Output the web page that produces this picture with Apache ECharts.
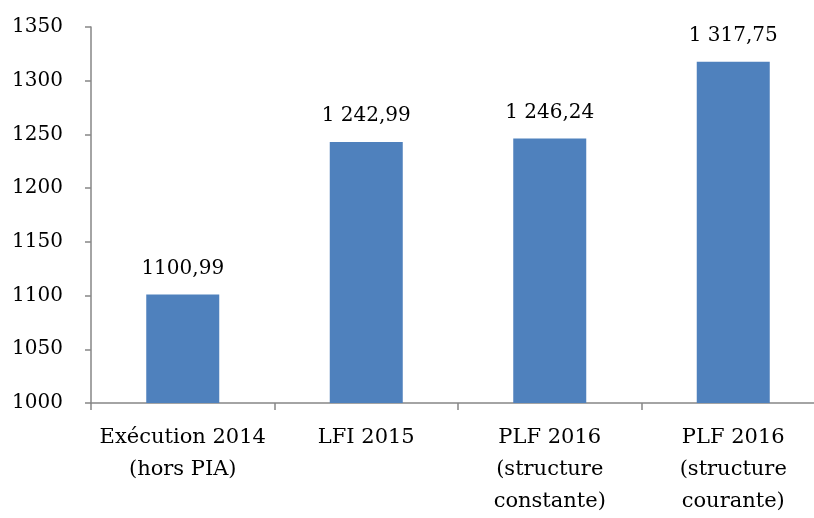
<!DOCTYPE html>
<html><head><meta charset="utf-8">
<script src="https://cdn.jsdelivr.net/npm/echarts@6/dist/echarts.min.js"></script>
<style>html,body{margin:0;padding:0;background:#fff;overflow:hidden;width:814px;height:518px}#c{width:825px;height:518px}</style>
</head><body><div id="c"></div>
<script>
var categories = ["Exécution 2014\n(hors PIA)", "LFI 2015", "PLF 2016\n(structure\nconstante)", "PLF 2016\n(structure\ncourante)"];
var values = [1100.99, 1242.99, 1246.24, 1317.75];
var valueLabels = ["1100,99", "1 242,99", "1 246,24", "1 317,75"];
var yMin = 1000, yMax = 1350, yStep = 50;

var FONT = "'DejaVu Serif',serif";
var chart = echarts.init(document.getElementById('c'));
chart.setOption({
  animation: false,
  grid: {left: 91, top: 27, right: 0, bottom: 114, containLabel: false},
  xAxis: {
    type: 'category', data: categories,
    axisLine: {lineStyle: {color: '#868686', width: 1.5}},
    axisTick: {show: true, length: 7, lineStyle: {color: '#868686', width: 1.5}},
    axisLabel: {color: '#000', fontFamily: FONT, fontSize: 21, lineHeight: 32, margin: 19, interval: 0}
  },
  yAxis: {
    type: 'value', min: yMin, max: yMax, interval: yStep,
    splitLine: {show: false},
    axisLine: {show: true, lineStyle: {color: '#868686', width: 1.5}},
    axisTick: {show: true, length: 6, lineStyle: {color: '#868686', width: 1.5}},
    axisLabel: {color: '#000', fontFamily: FONT, fontSize: 20, margin: 28, formatter: function(v){ return String(v); }}
  },
  series: [{
    type: 'bar', data: values, barWidth: 73,
    itemStyle: {color: '#4F81BD'},
    label: {show: true, position: 'top', distance: 16, color: '#000', fontFamily: FONT, fontSize: 20,
      formatter: function(p){ return valueLabels[p.dataIndex]; }}
  }]
});
</script></body></html>
